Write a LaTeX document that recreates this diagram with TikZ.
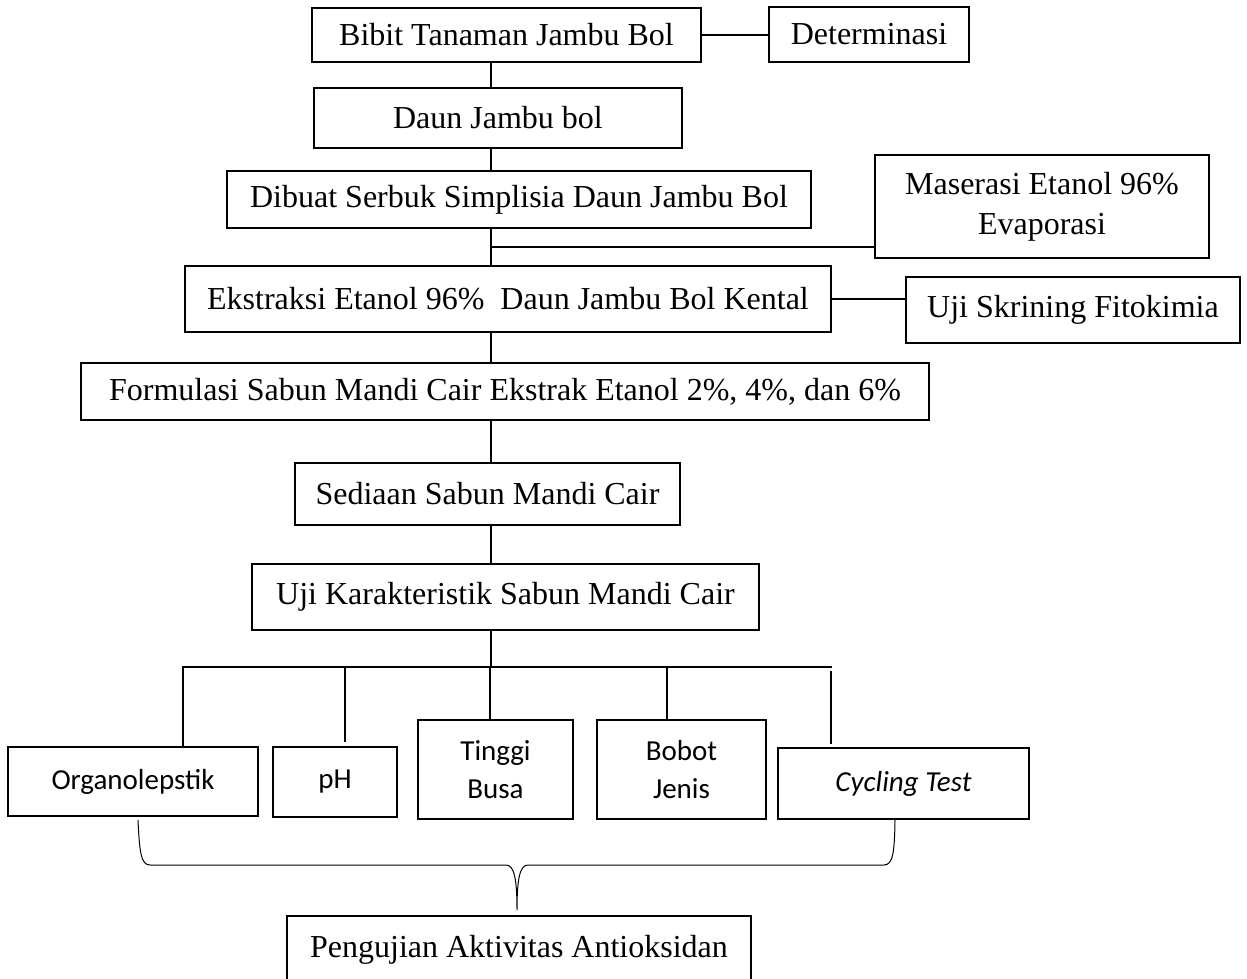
\documentclass[tikz,border=0pt]{standalone}
\usepackage{fontspec}
\setmainfont{Liberation Serif}
\newfontfamily\calib{Carlito}
\begin{document}
\begin{tikzpicture}[x=1pt,y=-1pt,
  box/.style={draw, line width=1.3pt, inner sep=0pt, align=center, font=\fontsize{32}{40}\selectfont},
  sbox/.style={draw, line width=2.6pt, inner sep=0pt, align=center, font=\calib\fontsize{29}{37.5}\selectfont},
  vline/.style={line width=2pt},
  hline/.style={line width=2.8pt},
  branch/.style={line width=1.4pt},
  drop/.style={line width=2.4pt},
  brace/.style={line width=1pt}]
\useasboundingbox (0,0) rectangle (1247,979);
% upper boxes
\node[box, minimum width=389pt, minimum height=54pt] (bibit) at (506.5,35) {Bibit Tanaman Jambu Bol};
\node[box, minimum width=200pt, minimum height=55pt] (deter) at (869,34.5) {Determinasi};
\node[box, minimum width=368pt, minimum height=60pt] (daun) at (498,118) {Daun Jambu bol};
\node[box, minimum width=584pt, minimum height=57pt] (serbuk) at (519,199.5) {Dibuat Serbuk Simplisia Daun Jambu Bol};
\node[box, minimum width=334pt, minimum height=103pt] (maserasi) at (1042,206.5) {Maserasi Etanol 96\%\\Evaporasi};
\node[box, minimum width=646pt, minimum height=66pt] (ekstrak) at (508,299) {Ekstraksi Etanol 96\%\hspace{0.5em}Daun Jambu Bol Kental};
\node[box, minimum width=334pt, minimum height=66pt] (skrining) at (1073,310) {Uji Skrining Fitokimia};
\node[box, minimum width=848pt, minimum height=57pt] (formulasi) at (505,391.5) {Formulasi Sabun Mandi Cair Ekstrak Etanol 2\%, 4\%, dan 6\%};
\node[box, minimum width=385pt, minimum height=62pt] (sediaan) at (487.5,494) {Sediaan Sabun Mandi Cair};
\node[box, minimum width=507pt, minimum height=66pt] (karakter) at (505.5,597) {Uji Karakteristik Sabun Mandi Cair};
% lower boxes
\node[sbox, minimum width=250pt, minimum height=69pt] (organo) at (133,781.5) {Organolepstik};
\node[sbox, minimum width=124pt, minimum height=70pt] (ph) at (335,782) {pH};
\node[sbox, minimum width=155pt, minimum height=99pt] (tinggi) at (495.5,769.5) {Tinggi\\Busa};
\node[sbox, minimum width=169pt, minimum height=99pt] (bobot) at (681.5,769.5) {Bobot\\Jenis};
\node[sbox, minimum width=251pt, minimum height=71pt] (cycling) at (903.5,783.5) {\itshape Cycling Test};
\node[box, minimum width=464pt, minimum height=68pt] (antiox) at (519,950) {Pengujian Aktivitas Antioksidan};
% coordinates
\coordinate (spine) at (491,0);
\coordinate (mj) at (491,247);
\coordinate (br) at (491,667);
\coordinate (bl) at (182,667);
\coordinate (brr) at (832,667);
\coordinate (d1) at (183,667);
\coordinate (d2) at (345,667);
\coordinate (d3) at (490,667);
\coordinate (d4) at (667,667);
\coordinate (d5) at (831,667);
\coordinate (bL) at (138,820);
\coordinate (bT) at (517,910);
\coordinate (bR) at (895,820);
% spine connectors
\draw[vline] (bibit.south -| spine) -- (daun.north -| spine);
\draw[vline] (daun.south -| spine) -- (serbuk.north -| spine);
\draw[vline] (serbuk.south -| spine) -- (ekstrak.north -| spine);
\draw[vline] (ekstrak.south -| spine) -- (formulasi.north -| spine);
\draw[vline] (formulasi.south -| spine) -- (sediaan.north -| spine);
\draw[vline] (sediaan.south -| spine) -- (karakter.north -| spine);
\draw[vline] (karakter.south -| spine) -- (br);
% side connectors
\draw[hline] (bibit.east) -- (bibit.east -| deter.west);
\draw[hline] (mj) -- (mj -| maserasi.west);
\draw[hline] (ekstrak.east) -- (ekstrak.east -| skrining.west);
% branch
\draw[branch] (bl) -- (brr);
\draw[drop] (d1) -- (d1 |- organo.north);
\draw[drop, shorten >=4pt] (d2) -- (d2 |- ph.north);
\draw[drop] (d3) -- (d3 |- tinggi.north);
\draw[drop] (d4) -- (d4 |- bobot.north);
\draw[drop, shorten <=4pt, shorten >=3pt] (d5) -- (d5 |- cycling.north);
% brace
\draw[brace] (bL) .. controls (139.5,852) and (141,865) .. (150,865) -- (506,865)
  .. controls (514,865) and (517,878) .. (bT)
  .. controls (517,878) and (520,865) .. (528,865) -- (884,865)
  .. controls (893,865) and (894.5,852) .. (bR);
\end{tikzpicture}
\end{document}
